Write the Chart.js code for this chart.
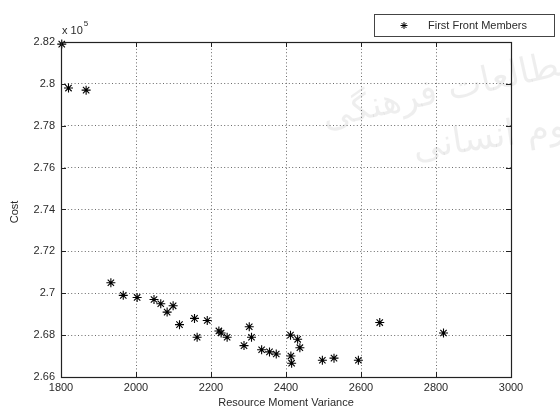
<!DOCTYPE html>
<html>
<head>
<meta charset="utf-8">
<script src="https://cdn.jsdelivr.net/npm/chart.js@4/dist/chart.umd.min.js"></script>
<style>
  html, body { margin: 0; padding: 0; background: #fff; }
  #wrap { width: 560px; height: 409px; }
</style>
</head>
<body>
<div id="wrap"><canvas id="c" width="560" height="409"></canvas></div>
<script>
// Resource moment variance of each first-front solution
const variance = [
  1802, 1820, 1867, 1933, 1966, 2003, 2048, 2066, 2083, 2099,
  2116, 2156, 2163, 2190, 2221, 2227, 2243, 2288, 2302, 2308,
  2335, 2356, 2374, 2412, 2413, 2415, 2431, 2437, 2497, 2528,
  2593, 2650, 2820
];
// Cost of each solution, in units of 10^5
const cost = [
  2.819, 2.798, 2.797, 2.705, 2.699, 2.698, 2.697, 2.695, 2.691, 2.694,
  2.685, 2.688, 2.679, 2.687, 2.682, 2.681, 2.679, 2.675, 2.684, 2.679,
  2.673, 2.672, 2.671, 2.680, 2.670, 2.6666, 2.678, 2.674, 2.668, 2.669,
  2.668, 2.686, 2.681
];
const xTicks = [1800, 2000, 2200, 2400, 2600, 2800, 3000];
const yTicks = [2.66, 2.68, 2.7, 2.72, 2.74, 2.76, 2.78, 2.8, 2.82];
const seriesName = 'First Front Members';

const FONT = "'Liberation Sans', Arial, sans-serif";
const TEXT = '#2a2a2a';

const points = variance.map((v, i) => ({ x: v, y: cost[i] }));

// Faint logo text in the background
const backdrop = {
  id: 'backdrop',
  beforeDraw(chart) {
    const ctx = chart.ctx;
    ctx.fillStyle = '#fff';
    ctx.fillRect(0, 0, chart.width, chart.height);
    const lines = [
      { text: 'مطالعات فرهنگی', x: 578, y: 62, rot: -0.22 },
      { text: 'علوم انسانی', x: 600, y: 122, rot: -0.15 }
    ];
    lines.forEach(l => {
      ctx.save();
      ctx.fillStyle = 'rgba(0,0,0,0.065)';
      ctx.textAlign = 'right';
      ctx.textBaseline = 'middle';
      ctx.font = "36px 'DejaVu Sans'";
      ctx.translate(l.x, l.y);
      ctx.rotate(l.rot);
      ctx.fillText(l.text, 0, 0);
      ctx.restore();
    });
  }
};

// Box, inward ticks, axis titles and legend
const frame = {
  id: 'frame',
  afterDraw(chart) {
    const ctx = chart.ctx;
    const a = chart.chartArea;
    const sx = chart.scales.x, sy = chart.scales.y;
    const L = 5;
    ctx.save();
    ctx.strokeStyle = '#222';
    ctx.lineWidth = 1;
    ctx.beginPath();
    sx.ticks.forEach(t => {
      const p = Math.round(sx.getPixelForValue(t.value)) + 0.5;
      ctx.moveTo(p, a.bottom); ctx.lineTo(p, a.bottom - L);
      ctx.moveTo(p, a.top); ctx.lineTo(p, a.top + L);
    });
    sy.ticks.forEach(t => {
      const p = Math.round(sy.getPixelForValue(t.value)) + 0.5;
      ctx.moveTo(a.left, p); ctx.lineTo(a.left + L, p);
      ctx.moveTo(a.right, p); ctx.lineTo(a.right - L, p);
    });
    ctx.stroke();
    ctx.lineWidth = 1.2;
    ctx.strokeRect(Math.round(a.left) + 0.5, Math.round(a.top) + 0.5,
                   Math.round(a.right - a.left), Math.round(a.bottom - a.top));

    // axis titles
    ctx.fillStyle = TEXT;
    ctx.font = '11px ' + FONT;
    ctx.textAlign = 'center';
    ctx.textBaseline = 'middle';
    ctx.fillText('Resource Moment Variance', (a.left + a.right) / 2, 403);
    ctx.save();
    ctx.translate(15, 212);
    ctx.rotate(-Math.PI / 2);
    ctx.fillText('Cost', 0, 0);
    ctx.restore();

    // exponent label
    ctx.textAlign = 'left';
    ctx.fillText('x 10', a.left + 1, 31);
    const w = ctx.measureText('x 10').width;
    ctx.font = '8px ' + FONT;
    ctx.fillText('5', a.left + 2 + w, 24);

    // legend
    const ds = chart.data.datasets[0];
    ctx.lineWidth = 1;
    ctx.strokeStyle = '#444';
    ctx.strokeRect(374.5, 14.5, 180, 22);
    ctx.strokeStyle = '#000';
    Chart.helpers.drawPoint(ctx, {
      pointStyle: ds.pointStyle, radius: 3.5, borderWidth: ds.pointBorderWidth
    }, 404, 25.5);
    ctx.font = '11px ' + FONT;
    ctx.fillStyle = TEXT;
    ctx.textAlign = 'left';
    ctx.fillText(ds.label, 428, 26);
    ctx.restore();
  }
};

const gridStyle = {
  drawTicks: false,
  color: '#6a6a6a',
  lineWidth: 1
};

new Chart(document.getElementById('c'), {
  type: 'scatter',
  data: {
    datasets: [{
      label: seriesName,
      data: points,
      pointStyle: 'star',
      pointRadius: 4.5,
      pointHoverRadius: 4.5,
      pointBorderWidth: 1.1,
      borderColor: '#000',
      backgroundColor: '#000',
      clip: false
    }]
  },
  options: {
    responsive: false,
    animation: false,
    devicePixelRatio: 1,
    events: [],
    layout: { padding: { top: 42, right: 49, left: 0, bottom: 0 } },
    plugins: { legend: { display: false }, tooltip: { enabled: false } },
    scales: {
      x: {
        type: 'linear',
        min: xTicks[0],
        max: xTicks[xTicks.length - 1],
        afterBuildTicks(s) { s.ticks = xTicks.map(v => ({ value: v })); },
        afterFit(s) { s.height = 32; },
        grid: gridStyle,
        border: { display: false, dash: [1, 2.4] },
        ticks: {
          color: TEXT,
          font: { family: FONT, size: 11 },
          padding: 4,
          maxRotation: 0,
          autoSkip: false,
          callback: v => String(v)
        }
      },
      y: {
        type: 'linear',
        min: yTicks[0],
        max: yTicks[yTicks.length - 1],
        afterBuildTicks(s) { s.ticks = yTicks.map(v => ({ value: v })); },
        afterFit(s) { s.width = 61; },
        grid: gridStyle,
        border: { display: false, dash: [1, 2.4] },
        ticks: {
          color: TEXT,
          font: { family: FONT, size: 11 },
          padding: 6,
          autoSkip: false,
          callback: v => String(parseFloat(Number(v).toFixed(2)))
        }
      }
    }
  },
  plugins: [backdrop, frame]
});
</script>
</body>
</html>
